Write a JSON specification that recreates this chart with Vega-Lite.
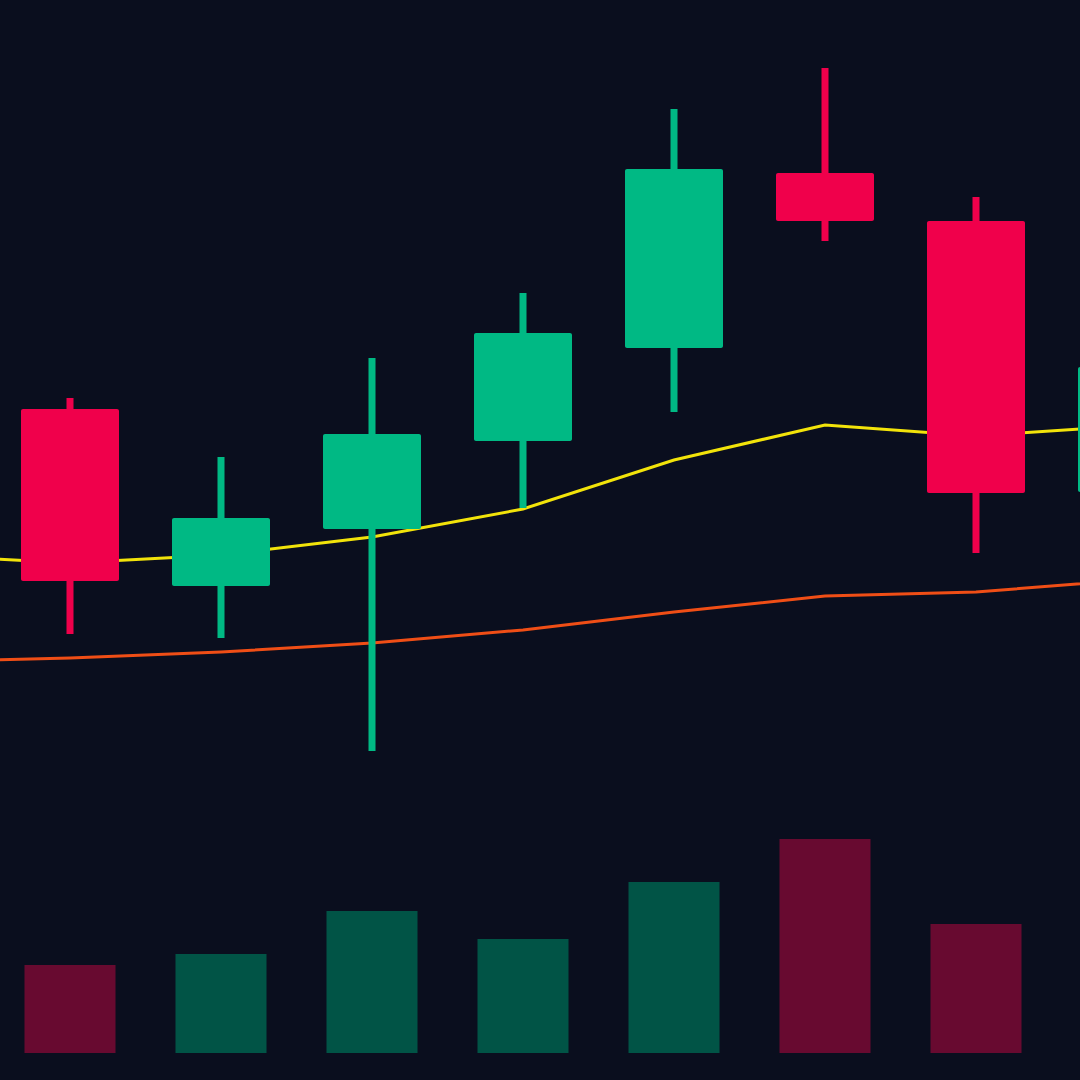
{
  "$schema": "https://vega.github.io/schema/vega-lite/v6.json",
  "width": 1080,
  "height": 1080,
  "autosize": {"type": "fit", "contains": "padding"},
  "padding": 0,
  "background": "#0a0e1e",
  "config": {"view": {"stroke": null}},
  "datasets": {
    "candles": [
      {"i": 0, "open": 167.1, "close": 149.9, "high": 168.2, "low": 144.6, "volume": 8.8, "dir": "down"},
      {"i": 1, "open": 149.4, "close": 156.2, "high": 162.3, "low": 144.2, "volume": 9.9, "dir": "up"},
      {"i": 2, "open": 155.1, "close": 164.6, "high": 172.2, "low": 132.9, "volume": 14.2, "dir": "up"},
      {"i": 3, "open": 163.9, "close": 174.7, "high": 178.7, "low": 157.2, "volume": 11.4, "dir": "up"},
      {"i": 4, "open": 173.2, "close": 191.1, "high": 197.1, "low": 166.8, "volume": 17.1, "dir": "up"},
      {"i": 5, "open": 190.7, "close": 185.9, "high": 201.2, "low": 183.9, "volume": 21.4, "dir": "down"},
      {"i": 6, "open": 185.9, "close": 158.7, "high": 188.3, "low": 152.7, "volume": 12.9, "dir": "down"},
      {"i": 7, "open": 158.8, "close": 171.3, "high": 172.5, "low": 157.5, "volume": 11.0, "dir": "up"}
    ],
    "ma": [
      {"i": -1, "fast": 152.5, "slow": 141.8},
      {"i": 0, "fast": 151.7, "slow": 142.2},
      {"i": 1, "fast": 152.5, "slow": 142.8},
      {"i": 2, "fast": 154.3, "slow": 143.7},
      {"i": 3, "fast": 157.1, "slow": 145.0},
      {"i": 4, "fast": 162.0, "slow": 146.8},
      {"i": 5, "fast": 165.5, "slow": 148.4},
      {"i": 6, "fast": 164.4, "slow": 148.8},
      {"i": 7, "fast": 165.4, "slow": 150.0}
    ]
  },
  "layer": [
    {
      "data": {"name": "candles"},
      "mark": {"type": "bar", "size": 91, "clip": true},
      "encoding": {
        "x": {"field": "i", "type": "quantitative", "scale": {"domain": [-0.46358, 6.68874], "nice": false, "zero": false, "padding": 0}, "axis": null},
        "y": {"field": "volume", "type": "quantitative", "scale": {"domain": [-2.7, 105.3], "nice": false, "zero": false}, "axis": null},
        "color": {"field": "dir", "type": "nominal", "scale": {"domain": ["up", "down"], "range": ["#015446", "#680a30"]}, "legend": null}
      }
    },
    {
      "layer": [
        {
          "data": {"name": "ma"},
          "mark": {"type": "line", "color": "#f04e16", "strokeWidth": 3, "clip": true},
          "encoding": {
            "x": {"field": "i", "type": "quantitative"},
            "y": {"field": "slow", "type": "quantitative", "scale": {"domain": [100, 208], "nice": false, "zero": false}, "axis": null}
          }
        },
        {
          "data": {"name": "ma"},
          "mark": {"type": "line", "color": "#f2e30a", "strokeWidth": 3, "clip": true},
          "encoding": {
            "x": {"field": "i", "type": "quantitative"},
            "y": {"field": "fast", "type": "quantitative"}
          }
        },
        {
          "data": {"name": "candles"},
          "mark": {"type": "rule", "strokeWidth": 7, "clip": true},
          "encoding": {
            "x": {"field": "i", "type": "quantitative"},
            "y": {"field": "low", "type": "quantitative"},
            "y2": {"field": "high"},
            "color": {"field": "dir", "type": "nominal", "scale": {"domain": ["up", "down"], "range": ["#00b984", "#f0004b"]}, "legend": null}
          }
        },
        {
          "data": {"name": "candles"},
          "mark": {"type": "bar", "size": 98, "cornerRadius": 2, "clip": true},
          "encoding": {
            "x": {"field": "i", "type": "quantitative"},
            "y": {"field": "open", "type": "quantitative"},
            "y2": {"field": "close"},
            "color": {"field": "dir", "type": "nominal", "legend": null}
          }
        }
      ]
    }
  ],
  "resolve": {"scale": {"y": "independent", "color": "independent"}}
}
